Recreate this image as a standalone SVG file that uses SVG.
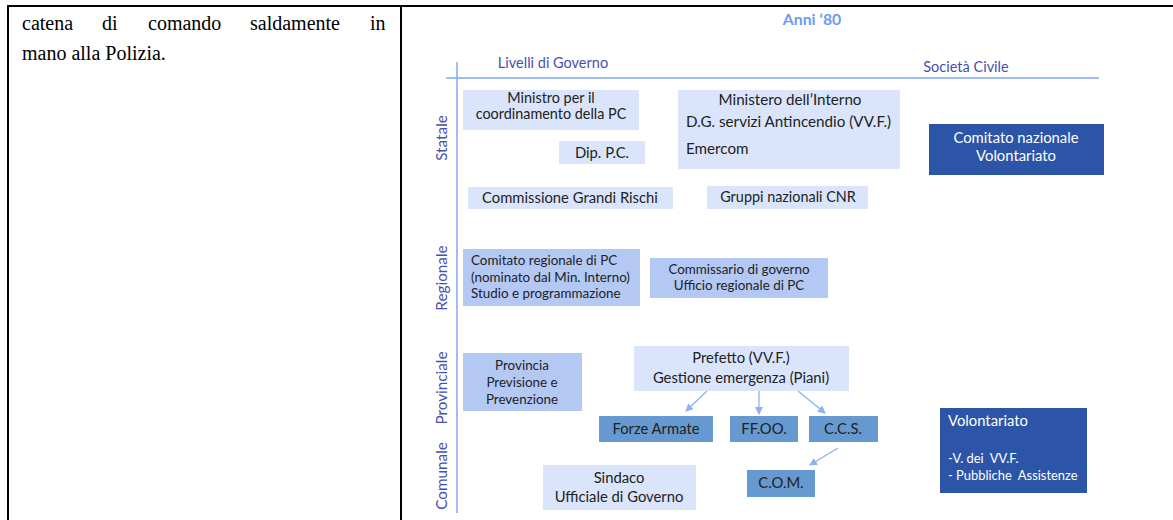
<svg xmlns="http://www.w3.org/2000/svg" width="1173" height="520" viewBox="0 0 1173 520">
<defs>
<style>
.page{font-family:"Liberation Serif","Times New Roman",serif;font-size:20px;fill:#000}
.t{font-family:Lato,"Open Sans",sans-serif;font-size:14.8px;fill:#222}
.s{font-family:Lato,"Open Sans",sans-serif;font-size:13.4px;fill:#222}
.w{font-family:Lato,"Open Sans",sans-serif;font-size:14.8px;fill:#fff}
.ax{font-family:Lato,"Open Sans",sans-serif;font-size:14.5px;fill:#4750B0}
.vx{font-family:Lato,"Open Sans",sans-serif;font-size:15.3px;fill:#4750B0}
.light{fill:#DAE5FC}
.reg{fill:#B4C8F4}
.med{fill:#6699CF}
.dark{fill:#2C55A8}
.c{text-anchor:middle}
.conn{stroke:#8DB1F2;stroke-width:1.3;fill:none;marker-end:url(#ah)}
</style>
<marker id="ah" markerWidth="8" markerHeight="8" refX="7" refY="4" orient="auto" markerUnits="userSpaceOnUse">
<path d="M0,0 L8,4 L0,8 z" fill="#8DB1F2"/>
</marker>
</defs>
<rect width="1173" height="520" fill="#fff"/>
<!-- page frame -->
<g id="frame" stroke="#000" stroke-width="2">
<line x1="7" y1="6" x2="1173" y2="6"/>
<line x1="8" y1="5" x2="8" y2="520"/>
<line x1="401" y1="5" x2="401" y2="520"/>
</g>
<g id="pagetext" class="page">
<text x="22" y="30">catena</text><text x="102" y="30">di</text><text x="148" y="30">comando</text><text x="250" y="30">saldamente</text><text x="370" y="30">in</text>
<text x="22" y="60">mano alla Polizia.</text>
</g>
<!-- axes -->
<g id="axes">
<line x1="446" y1="78" x2="1099" y2="78" stroke="#7FA8F5" stroke-width="1.5"/>
<line x1="457" y1="62" x2="457" y2="513" stroke="#7FA8F5" stroke-width="1.5"/>
<text x="812" y="25" class="c" style="font-family:Lato,'Open Sans',sans-serif;font-size:15.8px;font-weight:bold;fill:#6B9BF3">Anni ‘80</text>
<text x="553" y="68" class="ax c">Livelli di Governo</text>
<text x="966" y="72" class="ax c">Società Civile</text>
<text class="vx c" transform="translate(447,138) rotate(-90)">Statale</text>
<text class="vx c" transform="translate(447,278) rotate(-90)">Regionale</text>
<text class="vx c" transform="translate(447,388) rotate(-90)">Provinciale</text>
<text class="vx c" transform="translate(447,476) rotate(-90)">Comunale</text>
</g>
<!-- connectors -->
<g id="connectors">
<line class="conn" x1="707" y1="391" x2="686" y2="411"/>
<line class="conn" x1="759" y1="391" x2="759" y2="414"/>
<line class="conn" x1="798" y1="391" x2="825" y2="413"/>
<line class="conn" x1="838" y1="448" x2="810" y2="465"/>
</g>
<!-- nodes -->
<g id="n-ministro"><rect class="light" x="463" y="90" width="176" height="40"/>
<text class="t c" x="551" y="103" style="font-size:14.4px">Ministro per il</text><text class="t c" x="551" y="119" style="font-size:14.4px">coordinamento della PC</text></g>
<g id="n-dippc"><rect class="light" x="559" y="141" width="86" height="23"/>
<text class="t c" x="602" y="158">Dip. P.C.</text></g>
<g id="n-cgr"><rect class="light" x="468" y="187" width="205" height="22"/>
<text class="t c" x="570" y="203">Commissione Grandi Rischi</text></g>
<g id="n-interno"><rect class="light" x="678" y="90" width="222" height="79"/>
<text class="t c" x="790" y="105" style="font-size:15.2px">Ministero dell’Interno</text>
<text class="t" x="686" y="127" style="font-size:15.2px">D.G. servizi Antincendio (VV.F.)</text>
<text class="t" x="686" y="154" style="font-size:15.2px">Emercom</text></g>
<g id="n-cnr"><rect class="light" x="707" y="186" width="161" height="23"/>
<text class="t c" x="788" y="202" style="font-size:14.4px">Gruppi nazionali CNR</text></g>
<g id="n-cnv"><rect class="dark" x="929" y="124" width="175" height="51"/>
<text class="w c" x="1016" y="143">Comitato nazionale</text><text class="w c" x="1016" y="161">Volontariato</text></g>
<g id="n-creg"><rect class="reg" x="463" y="249" width="177" height="57"/>
<text class="s" x="471" y="265">Comitato regionale di PC</text>
<text class="s" x="471" y="282">(nominato dal Min. Interno)</text>
<text class="s" x="471" y="298">Studio e programmazione</text></g>
<g id="n-commissario"><rect class="reg" x="650" y="258" width="178" height="40"/>
<text class="s c" x="739" y="274">Commissario di governo</text>
<text class="s c" x="739" y="290">Ufficio regionale di PC</text></g>
<g id="n-provincia"><rect class="reg" x="463" y="353" width="119" height="58"/>
<text class="s c" x="522" y="370">Provincia</text>
<text class="s c" x="522" y="387">Previsione e</text>
<text class="s c" x="522" y="404">Prevenzione</text></g>
<g id="n-prefetto"><rect class="light" x="634" y="346" width="215" height="45"/>
<text class="t c" x="741" y="363">Prefetto (VV.F.)</text>
<text class="t c" x="741" y="383">Gestione emergenza (Piani)</text></g>
<g id="n-fa"><rect class="med" x="599" y="416" width="114" height="26"/>
<text class="t c" x="656" y="434">Forze Armate</text></g>
<g id="n-ffoo"><rect class="med" x="730" y="416" width="68" height="26"/>
<text class="t c" x="764" y="434">FF.OO.</text></g>
<g id="n-ccs"><rect class="med" x="809" y="416" width="69" height="26"/>
<text class="t c" x="843" y="434">C.C.S.</text></g>
<g id="n-com"><rect class="med" x="747" y="470" width="68" height="27"/>
<text class="t c" x="781" y="488">C.O.M.</text></g>
<g id="n-sindaco"><rect class="light" x="543" y="465" width="153" height="45"/>
<text class="t c" x="619" y="483">Sindaco</text>
<text class="t c" x="619" y="502">Ufficiale di Governo</text></g>
<g id="n-volontariato"><rect class="dark" x="940" y="408" width="147" height="85"/>
<text class="w" x="948" y="426">Volontariato</text>
<text class="w" x="948" y="463" style="font-size:12.9px" xml:space="preserve">-V. dei  VV.F.</text>
<text class="w" x="948" y="480" style="font-size:12.9px" xml:space="preserve">- Pubbliche  Assistenze</text></g>
</svg>
